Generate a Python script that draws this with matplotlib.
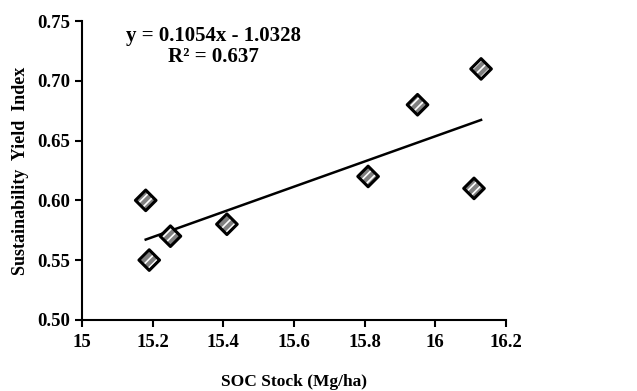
import matplotlib.pyplot as plt

plt.rcParams['font.family'] = ['Liberation Serif', 'DejaVu Serif']
plt.rcParams['font.weight'] = 'bold'
plt.rcParams['hatch.linewidth'] = 1.2

# SOC stock vs sustainability yield index
soc = [15.18, 15.19, 15.25, 15.41, 15.81, 15.95, 16.11, 16.13]
syi = [0.60, 0.55, 0.57, 0.58, 0.62, 0.68, 0.61, 0.71]
slope = 0.1054
intercept = -1.0328

fig = plt.figure(figsize=(6.37, 3.91), dpi=100)
ax = fig.add_axes([0.129, 0.182, 0.665, 0.764])

# gray fill with white stripes, then thick black outline
ax.scatter(soc, syi, marker='D', s=110, facecolor='#808080', edgecolor='white',
           linewidth=0, hatch='////', zorder=3)
ax.scatter(soc, syi, marker='D', s=110, facecolor='none', edgecolor='black',
           linewidth=2.2, zorder=4)
xs = [min(soc), max(soc)]
ax.plot(xs, [slope * x + intercept for x in xs], color='black', lw=1.8, zorder=2)

ax.set_xlim(15, 16.2)
ax.set_ylim(0.50, 0.75)
ax.set_xticks([15, 15.2, 15.4, 15.6, 15.8, 16, 16.2])
ax.set_xticklabels(['15', '15.2', '15.4', '15.6', '15.8', '16', '16.2'])
ax.set_yticks([0.50, 0.55, 0.60, 0.65, 0.70, 0.75])
ax.set_yticklabels(['%.2f' % v for v in [0.50, 0.55, 0.60, 0.65, 0.70, 0.75]])
for s in ['top', 'right']:
    ax.spines[s].set_visible(False)
for s in ['left', 'bottom']:
    ax.spines[s].set_linewidth(1.5)
ax.tick_params(direction='out', width=1.5, length=5, labelsize=13.5)
ax.tick_params(axis='x', pad=5)

ax.set_xlabel('SOC Stock (Mg/ha)', fontsize=12.5, fontweight='bold', labelpad=17)
ax.set_ylabel('Sustainability  Yield  Index', fontsize=13, fontweight='bold', labelpad=6)

ax.text(0.31, 0.916, 'y = 0.1054x - 1.0328\nR² = 0.637', transform=ax.transAxes,
        ha='center', va='center', fontsize=15, fontweight='bold', linespacing=1.05)

fig.savefig('out.png', dpi=100)
